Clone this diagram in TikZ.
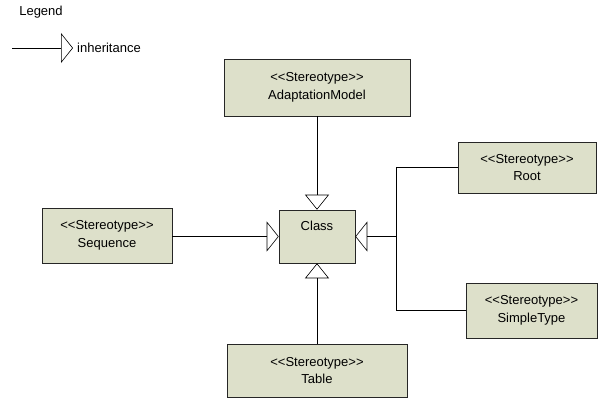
\documentclass[tikz,border=0pt]{standalone}
\usepackage{fontspec}
\setmainfont{Liberation Sans}[Ligatures=TeXOff]
\usetikzlibrary{arrows.meta,shadows}

\definecolor{boxfill}{RGB}{221,224,202}

\begin{document}
\begin{tikzpicture}[x=1pt,y=-1pt,
        stereo/.style={draw=black!85, fill=boxfill, line width=0.6pt, align=center, inner sep=0pt,
            font=\fontsize{13}{17.5}\selectfont,
            drop shadow={shadow xshift=1.2pt, shadow yshift=-1.2pt, fill=black!50, opacity=1}},
        txt/.style={font=\fontsize{13}{15}\selectfont, inner sep=0pt},
        inhh/.style={-{Triangle[open, length=12pt, width=30pt]}, line width=0.6pt},
        inhv/.style={-{Triangle[open, length=15pt, width=24pt]}, line width=0.6pt}]
        \useasboundingbox (0,0) rectangle (598,402);
        % legend
        \node[txt] (legend) at (41,12) {Legend};
        \coordinate (lstart) at (12,48);
        \coordinate (lend) at (73,48);
        \draw[inhh] (lstart) -- (lend);
        \node[txt, anchor=west] (inh) at (77,48) {inheritance};
        % classes
        \node[stereo, minimum width=186pt, minimum height=57pt] (adapt) at (317,87.5) {<<Stereotype>>\\AdaptationModel};
        \node[stereo, minimum width=76pt, minimum height=53pt,
            label={[txt, anchor=north, yshift=-11pt]north:Class}] (class) at (317,236.5) {};
        \node[stereo, minimum width=130pt, minimum height=55pt] (seq) at (107,235.5) {<<Stereotype>>\\Sequence};
        \node[stereo, minimum width=180pt, minimum height=53pt] (table) at (317,370.5) {<<Stereotype>>\\Table};
        \node[stereo, minimum width=138pt, minimum height=51pt] (root) at (527,167.5) {<<Stereotype>>\\Root};
        \node[stereo, minimum width=131pt, minimum height=55pt] (simple) at (531.5,310.5) {<<Stereotype>>\\SimpleType};
        % inheritance
        \draw[inhv] (adapt) -- (class);
        \draw[inhv] (table) -- (class);
        \draw[inhh] (seq.east |- class) -- (class);
        \coordinate (join) at (396,236.5);
        \draw[line width=0.6pt] (root.west) -| (join);
        \draw[line width=0.6pt] (simple.west) -| (join);
        \draw[inhh] (join) -- (class.east);
    \end{tikzpicture}
\end{document}
